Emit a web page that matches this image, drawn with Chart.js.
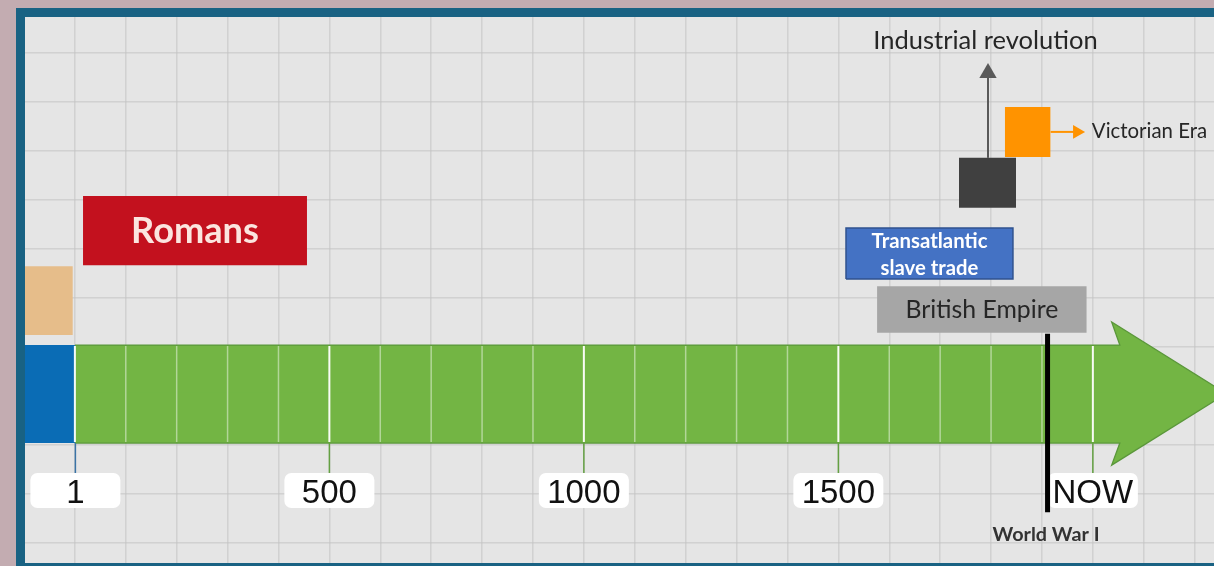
<!DOCTYPE html>
<html>
<head>
<meta charset="utf-8">
<script src="https://cdn.jsdelivr.net/npm/chart.js@4.4.0/dist/chart.umd.min.js"></script>
<style>
    html, body { margin: 0; padding: 0; background: #c3acb1; overflow: hidden; }
    canvas { display: block; }
</style>
</head>
<body>
<canvas id="timeline" width="1214" height="566"></canvas>
<script>
// years on the arrow
const tickYears = [1, 500, 1000, 1500, 2000];
const tickLabels = ['1', '500', '1000', '1500', 'NOW'];
const centuryYears = [100, 200, 300, 400, 600, 700, 800, 900, 1100, 1200, 1300, 1400, 1600, 1700, 1800, 1900];
const majorYears = [0, 500, 1000, 1500, 2000];

// events (start / end year)
const eventNames = ['Romans', 'Transatlantic slave trade', 'British Empire', 'Industrial revolution', 'Victorian Era'];
const eventStart = [16, 1515, 1576, 1737, 1827];
const eventEnd = [456, 1843, 1988, 1849, 1917];
const worldWarYear = 1911;

// before year 1 (blue end of the line, tan box above it)
const earlyStart = [-98, -98];
const earlyEnd = [0, -4];

// layout only: vertical bands in grid units (one grid square = 1)
const bands = [[6.67, 8.08], [6.39, 7.43], [5.29, 6.24], [7.84, 8.86], [8.88, 9.90]];
const colors = ['#c3111e', '#4472c4', '#a6a6a6', '#404040', '#ff9300'];
const Y = { shaftBottom: 3.04, shaftTop: 5.04, mid: 4.05, headTop: 5.51, headBottom: 2.59,
            tickBottom: 2.43, labelTop: 2.43, labelBottom: 1.714, labelBase: 1.816 };
const arrow = { shaftEnd: 2053, headBack: 2037, tip: 2262 };

function box(x0, x1, y0, y1, color) {
    return { data: [{x: x0, y: y1}, {x: x1, y: y1}], fill: {value: y0}, backgroundColor: color,
             borderWidth: 0, pointRadius: 0 };
}

function path(points, color, width) {
    return { data: points, fill: false, borderColor: color, borderWidth: width, pointRadius: 0, spanGaps: false };
}

function vlines(years, y0, y1) {
    let pts = [];
    years.forEach(yr => { pts.push({x: yr, y: y0}, {x: yr, y: y1}, {x: yr, y: null}); });
    return pts;
}

// datasets listed back to front
let sets = [];
// green arrow, drawn as two halves filled to the middle
sets.push({ data: [{x: 0, y: Y.shaftTop}, {x: arrow.shaftEnd, y: Y.shaftTop}, {x: arrow.headBack, y: Y.headTop}, {x: arrow.tip, y: Y.mid}],
            fill: {value: Y.mid - 0.02}, backgroundColor: '#73b544', borderColor: '#5a973a', borderWidth: 1.3, pointRadius: 0 });
sets.push({ data: [{x: 0, y: Y.shaftBottom}, {x: arrow.shaftEnd, y: Y.shaftBottom}, {x: arrow.headBack, y: Y.headBottom}, {x: arrow.tip, y: Y.mid}],
            fill: {value: Y.mid + 0.02}, backgroundColor: '#73b544', borderColor: '#5a973a', borderWidth: 1.3, pointRadius: 0 });
sets.push(box(earlyStart[0], earlyEnd[0], Y.shaftBottom, Y.shaftTop, '#0a6cb5'));
sets.push(path(vlines(centuryYears, Y.shaftBottom + 0.02, Y.shaftTop - 0.02), 'rgba(255,255,255,0.45)', 1.5));
sets.push(path(vlines(majorYears, Y.shaftBottom + 0.02, Y.shaftTop - 0.02), 'rgba(255,255,255,0.95)', 2));
// tick marks under the arrow
sets.push(path(vlines(tickYears.slice(0, 1), Y.shaftBottom, Y.tickBottom), '#3a73a6', 1.5));
sets.push(path(vlines(tickYears.slice(1), Y.shaftBottom, Y.tickBottom), '#64a043', 1.5));
// boxes
sets.push(box(earlyStart[1], earlyEnd[1], 5.245, 6.65, '#e6bd8a'));
for (let i = 0; i < eventNames.length; i++) {
    sets.push(box(eventStart[i], eventEnd[i], bands[i][0], bands[i][1], colors[i]));
}
// outline of the slave trade box
sets.push(path([{x: eventStart[1], y: bands[1][0]}, {x: eventStart[1], y: bands[1][1]}, {x: eventEnd[1], y: bands[1][1]},
                {x: eventEnd[1], y: bands[1][0]}, {x: eventStart[1], y: bands[1][0]}], '#2f528f', 1.5));
// industrial revolution arrow (up)
sets.push({ data: [{x: 1794, y: bands[3][1]}, {x: 1794, y: 10.59}], fill: false, borderColor: '#595959', borderWidth: 2,
            pointRadius: [0, 10], pointStyle: 'triangle', pointRotation: 0, pointBackgroundColor: '#595959', pointBorderWidth: 0 });
// victorian era arrow (right)
sets.push({ data: [{x: eventEnd[4], y: 9.39}, {x: 1969, y: 9.39}], fill: false, borderColor: '#ff9300', borderWidth: 2,
            pointRadius: [0, 8], pointStyle: 'triangle', pointRotation: 90, pointBackgroundColor: '#ff9300', pointBorderWidth: 0 });
// world war I
sets.push(path([{x: worldWarYear, y: 5.27}, {x: worldWarYear, y: 1.63}], '#000000', 5));

sets.forEach((d, i) => { d.order = sets.length - i; d.tension = 0; });

function fitText(ctx, text, x, y, width, weight, family, color, align) {
    ctx.font = weight + ' 100px ' + family;
    let size = 100 * width / ctx.measureText(text).width;
    ctx.font = weight + ' ' + size.toFixed(1) + 'px ' + family;
    ctx.fillStyle = color;
    ctx.textAlign = align || 'center';
    ctx.textBaseline = 'alphabetic';
    ctx.fillText(text, x, y);
}

function roundRect(ctx, x, y, w, h, r) {
    ctx.beginPath();
    ctx.moveTo(x + r, y);
    ctx.arcTo(x + w, y, x + w, y + h, r);
    ctx.arcTo(x + w, y + h, x, y + h, r);
    ctx.arcTo(x, y + h, x, y, r);
    ctx.arcTo(x, y, x + w, y, r);
    ctx.closePath();
}

const timelinePlugin = {
    id: 'timeline',
    beforeDraw(chart) {
        const ctx = chart.ctx;
        const a = chart.chartArea;
        ctx.save();
        ctx.fillStyle = '#c3acb1';
        ctx.fillRect(0, 0, chart.width, chart.height);
        ctx.fillStyle = '#196283';
        ctx.fillRect(16, 8, chart.width - 16, chart.height - 8);
        ctx.fillStyle = '#e5e5e5';
        ctx.fillRect(a.left, a.top, a.right - a.left, a.bottom - a.top);
        ctx.restore();
    },
    beforeDatasetsDraw(chart) {
        // white label boxes under the tick marks
        const ctx = chart.ctx;
        const xs = chart.scales.x, ys = chart.scales.y;
        const top = ys.getPixelForValue(Y.labelTop), bottom = ys.getPixelForValue(Y.labelBottom);
        ctx.save();
        tickYears.forEach((yr, i) => {
            const cx = xs.getPixelForValue(yr);
            ctx.fillStyle = '#ffffff';
            roundRect(ctx, cx - 45, top, 90, bottom - top, 7);
            ctx.fill();
            ctx.font = '33px "Liberation Sans", Arial, sans-serif';
            ctx.fillStyle = '#111111';
            ctx.textAlign = 'center';
            ctx.textBaseline = 'alphabetic';
            ctx.fillText(tickLabels[i], cx, ys.getPixelForValue(Y.labelBase));
        });
        ctx.restore();
    },
    afterDatasetsDraw(chart) {
        const ctx = chart.ctx;
        const xs = chart.scales.x, ys = chart.scales.y;
        const mid = i => xs.getPixelForValue((eventStart[i] + eventEnd[i]) / 2);
        ctx.save();
        fitText(ctx, eventNames[0], mid(0), ys.getPixelForValue(7.122), 128, 'bold', 'Lato', '#fbe5df');
        fitText(ctx, 'Transatlantic', mid(1), ys.getPixelForValue(7.03), 116, 'bold', 'Lato', '#ffffff');
        fitText(ctx, 'slave trade', mid(1), ys.getPixelForValue(6.47), 98, 'bold', 'Lato', '#ffffff');
        fitText(ctx, eventNames[2], mid(2), ys.getPixelForValue(5.586), 153, 'normal', 'Lato', '#262626');
        fitText(ctx, eventNames[3], xs.getPixelForValue(1789), ys.getPixelForValue(11.09), 224, 'normal', 'Lato', '#262626');
        fitText(ctx, eventNames[4], xs.getPixelForValue(1998), ys.getPixelForValue(9.26), 115, 'normal', 'Lato', '#262626', 'left');
        fitText(ctx, 'World War I', xs.getPixelForValue(worldWarYear - 3), ys.getPixelForValue(1.047), 107, 'bold', 'Lato', '#333333');
        ctx.restore();
    }
};

const gridStyle = { color: 'rgba(195,195,195,0.6)', lineWidth: 1.5, drawTicks: false };

new Chart(document.getElementById('timeline'), {
    type: 'line',
    data: { datasets: sets },
    options: {
        responsive: false,
        animation: false,
        events: [],
        layout: { autoPadding: false, padding: { left: 25, top: 17, right: 0, bottom: 3 } },
        plugins: { legend: { display: false }, tooltip: { enabled: false } },
        scales: {
            x: { type: 'linear', min: -98, max: 2238, grid: gridStyle, border: { display: false },
                 ticks: { display: false, stepSize: 100, includeBounds: false } },
            y: { type: 'linear', min: 0.592, max: 11.735, grid: gridStyle, border: { display: false },
                 ticks: { display: false, stepSize: 1, includeBounds: false } }
        }
    },
    plugins: [timelinePlugin]
});
</script>
</body>
</html>
